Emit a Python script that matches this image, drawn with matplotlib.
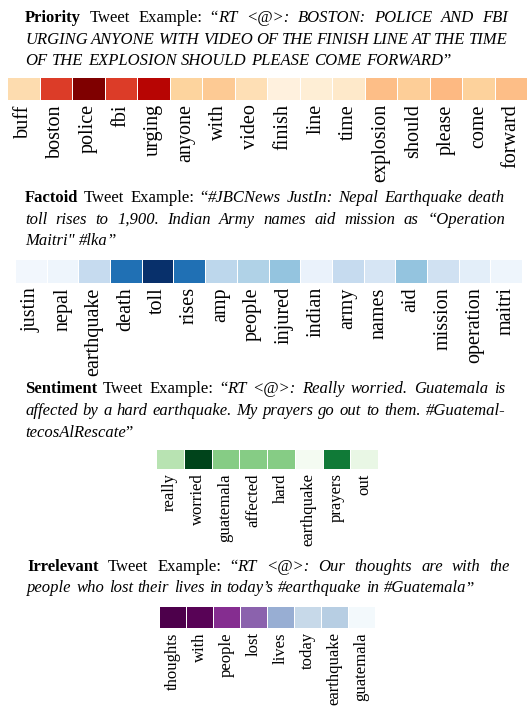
import numpy as np
import matplotlib
matplotlib.use('Agg')
import matplotlib.pyplot as plt

SERIF = ['Liberation Serif', 'DejaVu Serif']

# ---- data ----
priority_words = ['buff', 'boston', 'police', 'fbi', 'urging', 'anyone', 'with', 'video',
                  'finish', 'line', 'time', 'explosion', 'should', 'please', 'come', 'forward']
priority_vals = [0.20, 0.72, 1.00, 0.72, 0.86, 0.25, 0.30, 0.18,
                 0.05, 0.08, 0.12, 0.36, 0.28, 0.38, 0.26, 0.36]

factoid_words = ['justin', 'nepal', 'earthquake', 'death', 'toll', 'rises', 'amp', 'people',
                 'injured', 'indian', 'army', 'names', 'aid', 'mission', 'operation', 'maitri']
factoid_vals = [0.03, 0.05, 0.25, 0.75, 1.00, 0.75, 0.28, 0.32,
                0.40, 0.07, 0.25, 0.17, 0.40, 0.20, 0.10, 0.05]

sentiment_words = ['really', 'worried', 'guatemala', 'affected', 'hard', 'earthquake', 'prayers', 'out']
sentiment_vals = [0.30, 1.00, 0.45, 0.45, 0.45, 0.02, 0.82, 0.10]

irrelevant_words = ['thoughts', 'with', 'people', 'lost', 'lives', 'today', 'earthquake', 'guatemala']
irrelevant_vals = [1.00, 0.97, 0.80, 0.65, 0.42, 0.22, 0.28, 0.02]

# caption lines: (text, style) runs; b = bold, r = regular, i = italic
priority_text = [
    [('Priority', 'b'), (' Tweet Example: “', 'r'), ('RT <@>: BOSTON: POLICE AND FBI', 'i')],
    [('URGING ANYONE WITH VIDEO OF THE FINISH LINE AT THE TIME', 'i')],
    [('OF THE EXPLOSION SHOULD PLEASE COME FORWARD', 'i'), ('”', 'r')],
]
factoid_text = [
    [('Factoid', 'b'), (' Tweet Example: “', 'r'), ('#JBCNews JustIn: Nepal Earthquake death', 'i')],
    [('toll rises to 1,900. Indian Army names aid mission as “Operation', 'i')],
    [('Maitri" #lka', 'i'), ('”', 'r')],
]
sentiment_text = [
    [('Sentiment', 'b'), (' Tweet Example: “', 'r'), ('RT <@>: Really worried. Guatemala is', 'i')],
    [('affected by a hard earthquake. My prayers go out to them. #Guatemal-', 'i')],
    [('tecosAlRescate', 'i'), ('”', 'r')],
]
irrelevant_text = [
    [('Irrelevant', 'b'), (' Tweet Example: “', 'r'), ('RT <@>: Our thoughts are with the', 'i')],
    [('people who lost their lives in today’s #earthquake in #Guatemala', 'i'), ('”', 'r')],
]

W, H = 527, 710
fig = plt.figure(figsize=(W / 100, H / 100), dpi=100)
renderer = fig.canvas.get_renderer()

STYLE = {'b': dict(weight='bold'), 'r': {}, 'i': dict(style='italic')}
BODY_FS = 12


def measure(s, st, fs):
    t = fig.text(0, 0, s, fontsize=fs, family=SERIF, **STYLE[st])
    w = t.get_window_extent(renderer).width
    t.remove()
    return w


def draw_para(lines, x0, x1, y_base, lh, fs=BODY_FS):
    # justified lines except the last one, like the LaTeX caption
    for k, runs in enumerate(lines):
        tokens, cur = [], []
        for text, st in runs:
            for j, p in enumerate(text.split(' ')):
                if j > 0 and cur:
                    tokens.append(cur)
                    cur = []
                if p:
                    cur.append((p, st))
        if cur:
            tokens.append(cur)
        widths = [[measure(s, st, fs) for s, st in tok] for tok in tokens]
        total = sum(sum(w) for w in widths)
        if k < len(lines) - 1:
            gap = (x1 - x0 - total) / (len(tokens) - 1)
        else:
            gap = 0.28 * fs * 100 / 72
        x = x0
        y = y_base + k * lh
        for tok, ws in zip(tokens, widths):
            for (s, st), w in zip(tok, ws):
                fig.text(x / W, 1 - y / H, s, fontsize=fs, family=SERIF,
                         va='baseline', ha='left', **STYLE[st])
                x += w
            x += gap


def add_strip(words, vals, cmap, box, fs):
    x0, y0, x1, y1 = box
    ax = fig.add_axes([x0 / W, 1 - y1 / H, (x1 - x0) / W, (y1 - y0) / H])
    ax.pcolormesh(np.array([vals]), cmap=cmap, vmin=0, vmax=1,
                  edgecolors='white', linewidth=0.6)
    ax.set_xlim(0, len(vals))
    ax.set_ylim(0, 1)
    ax.set_xticks(np.arange(len(vals)) + 0.5)
    ax.set_xticklabels(words, rotation=90, fontsize=fs, family=SERIF)
    ax.set_yticks([])
    ax.tick_params(length=0, pad=3)
    for s in ax.spines.values():
        s.set_visible(False)


draw_para(priority_text, 25, 508, 22, 21.5)
add_strip(priority_words, priority_vals, 'OrRd', (7, 77, 527, 100), 14.5)

draw_para(factoid_text, 25, 505, 202, 21.5)
add_strip(factoid_words, factoid_vals, 'Blues', (15, 259, 522, 283), 14.5)

draw_para(sentiment_text, 25, 505, 393, 22)
add_strip(sentiment_words, sentiment_vals, 'Greens', (156, 449, 378, 469), 12)

draw_para(irrelevant_text, 27, 510, 571, 21.5)
add_strip(irrelevant_words, irrelevant_vals, 'BuPu', (159, 606, 375, 628), 12)

fig.savefig('out.png', dpi=100)
